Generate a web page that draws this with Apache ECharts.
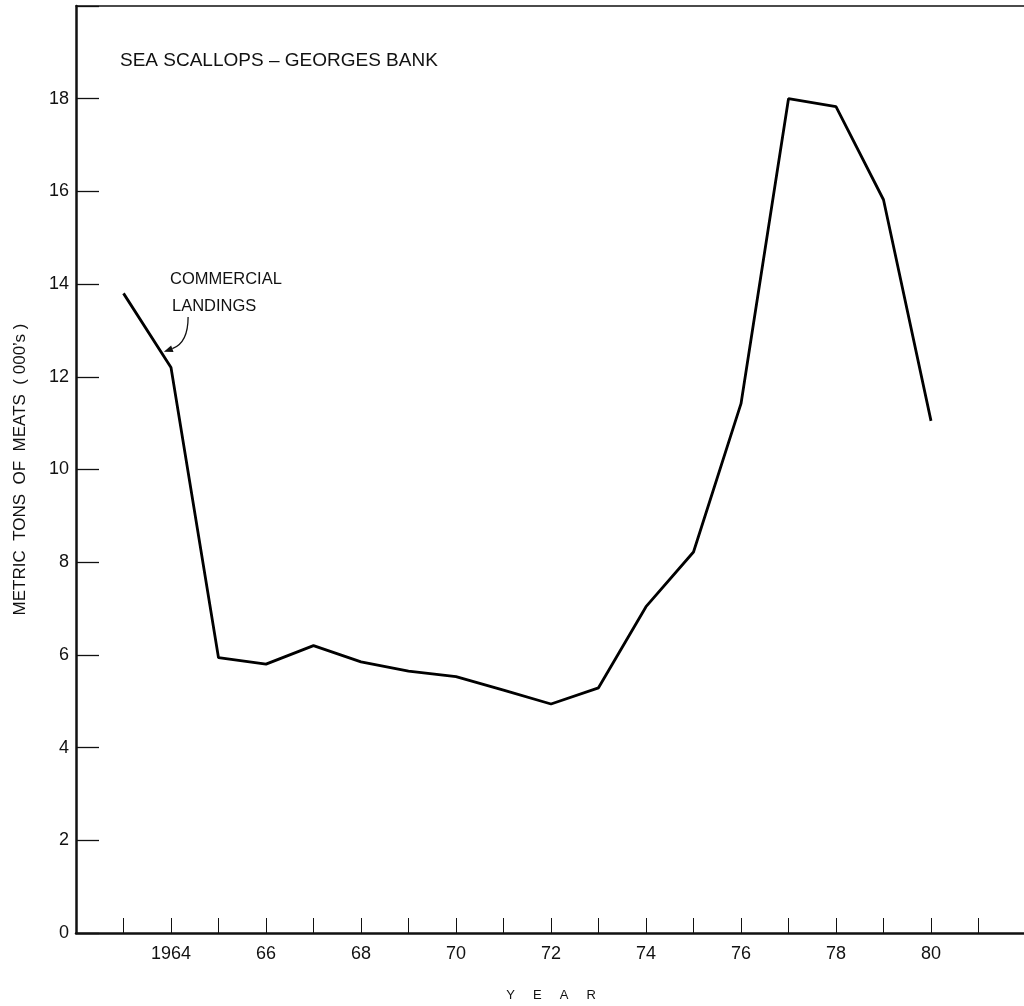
<!DOCTYPE html>
<html>
<head>
<meta charset="utf-8">
<script src="https://cdn.jsdelivr.net/npm/echarts@6/dist/echarts.min.js"></script>
<style>
html,body{margin:0;padding:0;background:#fff;overflow:hidden;}
#chart{width:1024px;height:1006px;}
</style>
</head>
<body>
<div id="chart"></div>
<script>
// Data
var years = [1963, 1964, 1965, 1966, 1967, 1968, 1969, 1970, 1971, 1972, 1973, 1974, 1975, 1976, 1977, 1978, 1979, 1980];
var landings = [13.8, 12.2, 5.94, 5.8, 6.2, 5.85, 5.65, 5.53, 5.24, 4.94, 5.29, 7.04, 8.22, 11.42, 18.0, 17.83, 15.82, 11.05];
var xTickLabels = {1964: '1964', 1966: '66', 1968: '68', 1970: '70', 1972: '72', 1974: '74', 1976: '76', 1978: '78', 1980: '80'};
var yTickLabels = ['0', '2', '4', '6', '8', '10', '12', '14', '16', '18'];
var titleText = 'SEA SCALLOPS \u2013 GEORGES BANK';
var seriesLabel = ['COMMERCIAL', 'LANDINGS'];
var yName = 'METRIC  TONS  OF  MEATS  ( 000\u2019s )';
var xName = 'Y     E     A     R';
// annotation arrow ends, in data units [year, value]
var arrowFrom = [1964.36, 13.29];
var arrowTo = [1963.85, 12.54];

var FONT = '"Liberation Sans", Arial, sans-serif';
var chart = echarts.init(document.getElementById('chart'));
var pts = years.map(function (y, i) { return [y, landings[i]]; });

var texts = [
  { type: 'text', x: 120, y: 61, style: { text: titleText, font: '19px ' + FONT, fill: '#111', verticalAlign: 'middle' } },
  { type: 'text', x: 170, y: 279, style: { text: seriesLabel[0], font: '16.5px ' + FONT, fill: '#111', verticalAlign: 'middle' } },
  { type: 'text', x: 172, y: 306, style: { text: seriesLabel[1], font: '16.5px ' + FONT, fill: '#111', verticalAlign: 'middle' } }
];

chart.setOption({
  animation: false,
  backgroundColor: '#fff',
  textStyle: { fontFamily: FONT, color: '#111' },
  grid: { left: 76, top: 6, width: 950, height: 927, outerBoundsMode: 'none', containLabel: false },
  xAxis: [{
    type: 'value', min: 1962, max: 1982, interval: 1,
    name: xName, nameLocation: 'middle', nameGap: 56,
    nameTextStyle: { fontFamily: FONT, fontSize: 13, color: '#111' },
    axisLine: { show: true, lineStyle: { color: '#111', width: 2.5 } },
    axisTick: { show: true, inside: true, length: 15, lineStyle: { color: '#111', width: 1 } },
    axisLabel: {
      margin: 12, fontSize: 18, color: '#111', fontFamily: FONT,
      showMinLabel: true, showMaxLabel: true,
      formatter: function (v) { return xTickLabels[v] || ''; }
    },
    splitLine: { show: false }
  }, {
    type: 'value', min: 1962, max: 1982, position: 'top',
    axisLine: { show: true, onZero: false, lineStyle: { color: '#111', width: 1.5 } },
    axisTick: { show: false }, axisLabel: { show: false }, splitLine: { show: false }
  }],
  yAxis: {
    type: 'value', min: 0, max: 20, interval: 2,
    name: yName, nameLocation: 'middle', nameGap: 47, nameRotate: 90,
    nameTextStyle: { fontFamily: FONT, fontSize: 17, color: '#111' },
    axisLine: { show: true, lineStyle: { color: '#111', width: 2.5 } },
    axisTick: { show: true, inside: true, length: 23, lineStyle: { color: '#111', width: 1.3 } },
    axisLabel: {
      margin: 7, fontSize: 18, color: '#111', fontFamily: FONT,
      formatter: function (v) { var i = Math.round(v / 2); return yTickLabels[i] !== undefined ? yTickLabels[i] : ''; }
    },
    splitLine: { show: false }
  },
  graphic: texts,
  series: [{
    type: 'line', data: pts, symbol: 'none',
    lineStyle: { color: '#000', width: 2.8 }
  }]
});

// curved annotation arrow placed through the chart's own scales
var p1 = chart.convertToPixel({ gridIndex: 0 }, arrowFrom);
var p2 = chart.convertToPixel({ gridIndex: 0 }, arrowTo);
var mx = (p1[0] + p2[0]) / 2, my = (p1[1] + p2[1]) / 2;
var cv = 0.35;
var cp = [mx - (p1[1] - p2[1]) * cv, my - (p2[0] - p1[0]) * cv];
var ang = Math.atan2(p2[1] - cp[1], p2[0] - cp[0]);
var L = 9, W = 3.5;
var bx = p2[0] - L * Math.cos(ang), by = p2[1] - L * Math.sin(ang);
var head = [
  [p2[0], p2[1]],
  [bx + W * Math.sin(ang), by - W * Math.cos(ang)],
  [bx - W * Math.sin(ang), by + W * Math.cos(ang)]
];
chart.setOption({
  graphic: texts.concat([
    { type: 'bezierCurve', shape: { x1: p1[0], y1: p1[1], x2: bx, y2: by, cpx1: cp[0], cpy1: cp[1] }, style: { stroke: '#111', lineWidth: 1.3, fill: null } },
    { type: 'polygon', shape: { points: head }, style: { fill: '#111' } }
  ])
}, { replaceMerge: ['graphic'] });
</script>
</body>
</html>
